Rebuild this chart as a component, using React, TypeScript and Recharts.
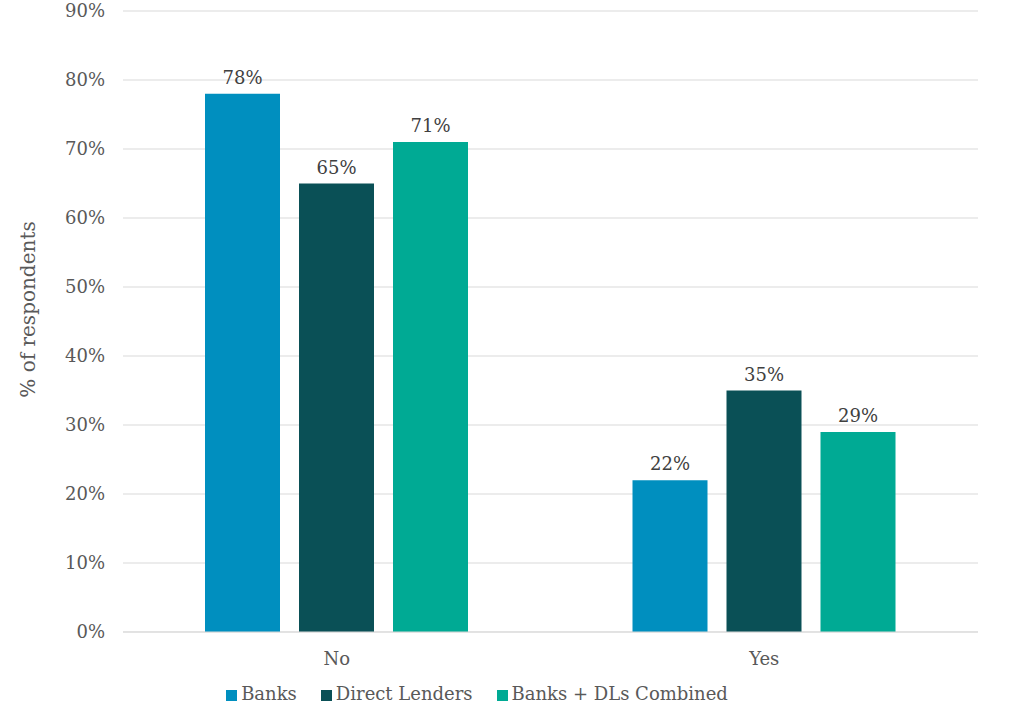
import { BarChart, Bar, XAxis, YAxis, CartesianGrid, Legend, LabelList } from "recharts";

const categories = ["No", "Yes"];
const banks = [78, 22];
const directLenders = [65, 35];
const combined = [71, 29];
const yTicks = [0, 10, 20, 30, 40, 50, 60, 70, 80, 90];

const data = categories.map((c, i) => ({
  name: c,
  banks: banks[i],
  dl: directLenders[i],
  combined: combined[i],
}));

const font = "Georgia, 'DejaVu Serif', serif";
const textColor = "#595959";
const pct = (v: any) => `${v}%`;

export default function App() {
  return (
    <div style={{ position: "absolute", left: 0, top: 0, background: "#fff" }}>
      <BarChart
        width={1024}
        height={716}
        data={data}
        margin={{ top: 11, right: 46, left: 0, bottom: 12 }}
        barSize={75}
        barGap={19}
        style={{ fontFamily: font }}
      >
        <CartesianGrid vertical={false} stroke="#d9d9d9" />
        <XAxis
          dataKey="name"
          axisLine={{ stroke: "#d9d9d9" }}
          tickLine={false}
          tickMargin={14}
          height={51}
          tick={{ fill: textColor, fontSize: 18, fontFamily: font }}
        />
        <YAxis
          width={123}
          domain={[0, 90]}
          ticks={yTicks}
          tickFormatter={pct}
          axisLine={false}
          tickLine={false}
          tickMargin={12}
          tick={{ fill: textColor, fontSize: 18, fontFamily: font }}
          label={{
            value: "% of respondents",
            angle: -90,
            position: "insideLeft",
            offset: 28,
            dy: -12,
            style: { textAnchor: "middle", fill: textColor, fontSize: 20, fontFamily: font },
          }}
        />
        <Legend
          verticalAlign="bottom"
          align="center"
          iconType="square"
          iconSize={11}
          itemSorter={null as any}
          wrapperStyle={{ fontFamily: font, fontSize: 18 }}
          formatter={(value: any) => (
            <span style={{ color: textColor, marginRight: 14 }}>{value}</span>
          )}
        />
        <Bar dataKey="banks" name="Banks" fill="#008fbf" isAnimationActive={false}>
          <LabelList dataKey="banks" position="top" offset={10} formatter={pct} fill="#404040" fontSize={18} fontFamily={font} />
        </Bar>
        <Bar dataKey="dl" name="Direct Lenders" fill="#0a5056" isAnimationActive={false}>
          <LabelList dataKey="dl" position="top" offset={10} formatter={pct} fill="#404040" fontSize={18} fontFamily={font} />
        </Bar>
        <Bar dataKey="combined" name="Banks + DLs Combined" fill="#00aa94" isAnimationActive={false}>
          <LabelList dataKey="combined" position="top" offset={10} formatter={pct} fill="#404040" fontSize={18} fontFamily={font} />
        </Bar>
      </BarChart>
    </div>
  );
}
